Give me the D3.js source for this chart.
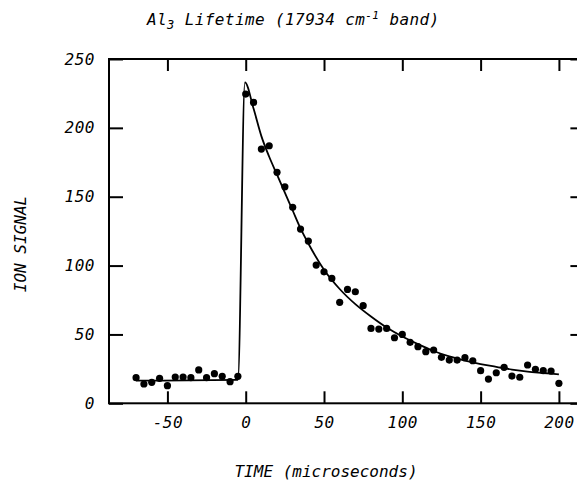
<!DOCTYPE html>
<html>
<head>
<meta charset="utf-8">
<script src="https://cdnjs.cloudflare.com/ajax/libs/d3/7.8.5/d3.min.js"></script>
<style>
    html, body { margin: 0; padding: 0; background: #fff; }
    svg text { font-family: "DejaVu Sans Mono", monospace; font-style: italic; fill: #000; }
</style>
</head>
<body>
<div id="chart"></div>
<script>
// measured points (time in microseconds, ion signal)
var timeValues = [-70, -65, -60, -55, -50, -45, -40, -35, -30, -25, -20, -15, -10, -5,
    0, 5, 10, 15, 20, 25, 30, 35, 40, 45, 50, 55, 60, 65, 70, 75, 80, 85, 90, 95, 100,
    105, 110, 115, 120, 125, 130, 135, 140, 145, 150, 155, 160, 165, 170, 175, 180, 185, 190, 195, 200];
var signalValues = [18.6, 14, 15.2, 18.1, 12.8, 19.1, 19.1, 18.6, 24.2, 18.6, 21.5, 19.6, 15.7, 19.6,
    224.5, 218.5, 184.6, 187, 167.7, 157.2, 142.3, 126.5, 117.8, 100.4, 95.5, 90.7, 73.3, 82.7, 81, 70.9,
    54.4, 53.9, 54.4, 47.6, 50, 44.3, 41.1, 37.5, 38.7, 33.4, 31.4, 31.4, 33.1, 30.9,
    23.7, 17.6, 22.2, 26.1, 19.8, 18.9, 27.8, 24.7, 23.7, 23.4, 14.5];

// fitted curve
var fitTime = [-70, -5, -0.5, 5, 10, 15, 20, 25, 30, 35, 40, 50, 60, 70, 80, 90, 100,
    110, 120, 130, 140, 150, 160, 170, 180, 190, 200];
var fitSignal = [16.4, 17, 233, 214, 194, 179, 166, 153, 140, 127, 116, 97, 83, 72, 63, 55, 48.5,
    43, 38, 34, 31, 28.5, 26.5, 24.5, 23, 22, 21];

var xTicks = [-50, 0, 50, 100, 150, 200];
var yTicks = [0, 50, 100, 150, 200, 250];

var width = 577, height = 483;
var plotLeft = 109, plotRight = 582.4, plotTop = 59, plotBottom = 403.3;

var svg = d3.select('#chart').append('svg')
    .attr('width', width)
    .attr('height', height);

var x = d3.scaleLinear().domain([-87.3, 215]).range([plotLeft, plotRight]);
var y = d3.scaleLinear().domain([0, 250]).range([plotBottom, plotTop]);

var fmt = function (d) { return String(d); };

// axes, ticks point inward
var gBottom = svg.append('g')
    .attr('transform', 'translate(0,' + plotBottom + ')')
    .call(d3.axisBottom(x).tickValues(xTicks).tickSize(-12).tickPadding(13).tickFormat(fmt));
var gLeft = svg.append('g')
    .attr('transform', 'translate(' + plotLeft + ',0)')
    .call(d3.axisLeft(y).tickValues(yTicks).tickSize(-14).tickPadding(14).tickFormat(fmt));
var gTop = svg.append('g')
    .attr('transform', 'translate(0,' + plotTop + ')')
    .call(d3.axisTop(x).tickValues(xTicks).tickSize(-12).tickFormat(''));
var gRight = svg.append('g')
    .attr('transform', 'translate(' + plotRight + ',0)')
    .call(d3.axisRight(y).tickValues(yTicks).tickSize(-12).tickFormat(''));

[gBottom, gLeft, gTop, gRight].forEach(function (g) {
    g.select('.domain').remove();
    g.selectAll('line').attr('stroke', '#000').attr('stroke-width', 2);
    g.selectAll('text').style('font-size', '16px').style('letter-spacing', '0.5px').attr('fill', '#000');
});

// frame
svg.append('rect')
    .attr('x', plotLeft)
    .attr('y', plotTop)
    .attr('width', plotRight - plotLeft)
    .attr('height', plotBottom - plotTop)
    .attr('fill', 'none')
    .attr('stroke', '#000')
    .attr('stroke-width', 2);

// fit line
var fitData = fitTime.map(function (t, i) { return [t, fitSignal[i]]; });
var line = d3.line()
    .x(function (d) { return x(d[0]); })
    .y(function (d) { return y(d[1]); })
    .curve(d3.curveMonotoneX);
svg.append('path')
    .datum(fitData)
    .attr('d', line)
    .attr('fill', 'none')
    .attr('stroke', '#000')
    .attr('stroke-width', 1.8);

// data points
svg.append('g').selectAll('circle')
    .data(timeValues)
    .enter()
    .append('circle')
    .attr('cx', function (d) { return x(d); })
    .attr('cy', function (d, i) { return y(signalValues[i]); })
    .attr('r', 3.6)
    .attr('fill', '#000');

// title
var title = svg.append('text')
    .attr('x', 147)
    .attr('y', 25)
    .style('font-size', '16px')
    .style('letter-spacing', '0.4px');
title.append('tspan').text('Al');
title.append('tspan').attr('dy', 4).style('font-size', '12px').text('3');
title.append('tspan').attr('dy', -4).text(' Lifetime (17934 cm');
title.append('tspan').attr('dy', -6).style('font-size', '11px').text('-1');
title.append('tspan').attr('dy', 6).text(' band)');

// axis titles
svg.append('text')
    .attr('x', 326)
    .attr('y', 477)
    .attr('text-anchor', 'middle')
    .style('font-size', '16px')
    .text('TIME (microseconds)');

svg.append('text')
    .attr('transform', 'translate(26,244) rotate(-90)')
    .attr('text-anchor', 'middle')
    .style('font-size', '16px')
    .text('ION SIGNAL');
</script>
</body>
</html>
